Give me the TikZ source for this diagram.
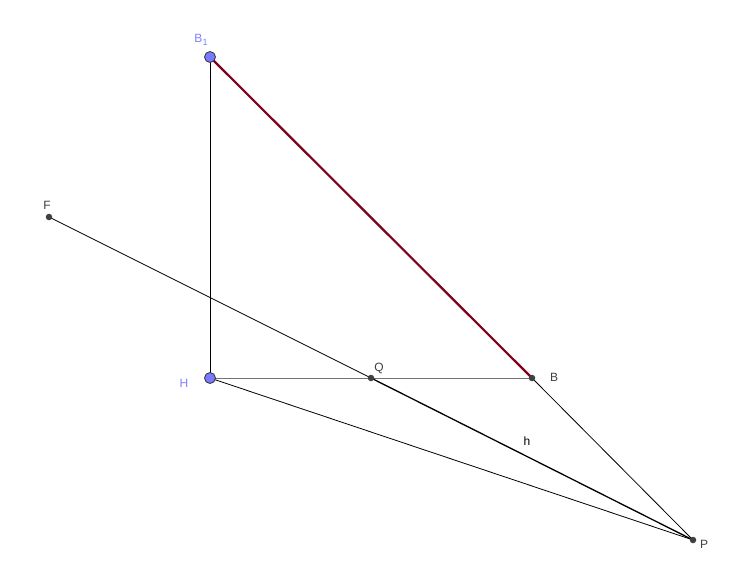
\documentclass[tikz,border=0pt]{standalone}
\usepackage{fontspec}
\setmainfont{Liberation Sans}
\definecolor{ptblue}{RGB}{122,122,255}
\definecolor{lblblue}{RGB}{128,128,255}
\definecolor{lbldark}{RGB}{64,64,64}
\definecolor{segred}{RGB}{128,0,32}
\tikzset{
  freept/.style={circle,draw=black!80,fill=ptblue,line width=0.8pt,minimum size=11pt,inner sep=0pt},
  deppt/.style={circle,fill=black!75,minimum size=6.5pt,inner sep=0pt},
  bluelbl/.style={text=lblblue,font=\fontsize{12}{14}\selectfont,inner sep=0pt},
  darklbl/.style={text=lbldark,font=\fontsize{12}{14}\selectfont,inner sep=0pt},
  thinline/.style={line width=0.8pt,black},
}
\begin{document}
\begin{tikzpicture}[x=1pt,y=-1pt]
\useasboundingbox[fill=white] (0,0) rectangle (753,581);
\coordinate (b1) at (210,57);
\coordinate (h) at (210,378);
\coordinate (f) at (49,217);
\coordinate (q) at (371,378);
\coordinate (b) at (532,378);
\coordinate (p) at (693,540);
% lines
\draw[thinline] (b1) -- (h);
\draw[line width=0.8pt,black!55] (h) -- (b);
\draw[thinline] (f) -- (q);
\draw[line width=1.3pt,black] (q) -- (p);
\draw[thinline] (h) -- (p);
\draw[thinline] (b) -- (p);
\draw[line width=2.2pt,segred] (b1) -- (b);
% points
\node[freept] (B1) at (b1) {};
\node[freept] (H) at (h) {};
\node[deppt] (F) at (f) {};
\node[deppt] (Q) at (q) {};
\node[deppt] (B) at (b) {};
\node[deppt] (P) at (p) {};
% labels
\node[bluelbl] (lB1) at (201,40) {B\raisebox{-3pt}{\fontsize{9}{10}\selectfont 1}};
\node[bluelbl] (lH) at (184,383) {H};
\node[darklbl] (lF) at (47,205) {F};
\node[darklbl] (lQ) at (379,368) {Q};
\node[darklbl] (lB) at (554,377) {B};
\node[darklbl] (lP) at (704,544) {P};
\node[text=black,font=\fontsize{12}{14}\selectfont,inner sep=0pt] (lh) at (527,441) {h};
\end{tikzpicture}
\end{document}
